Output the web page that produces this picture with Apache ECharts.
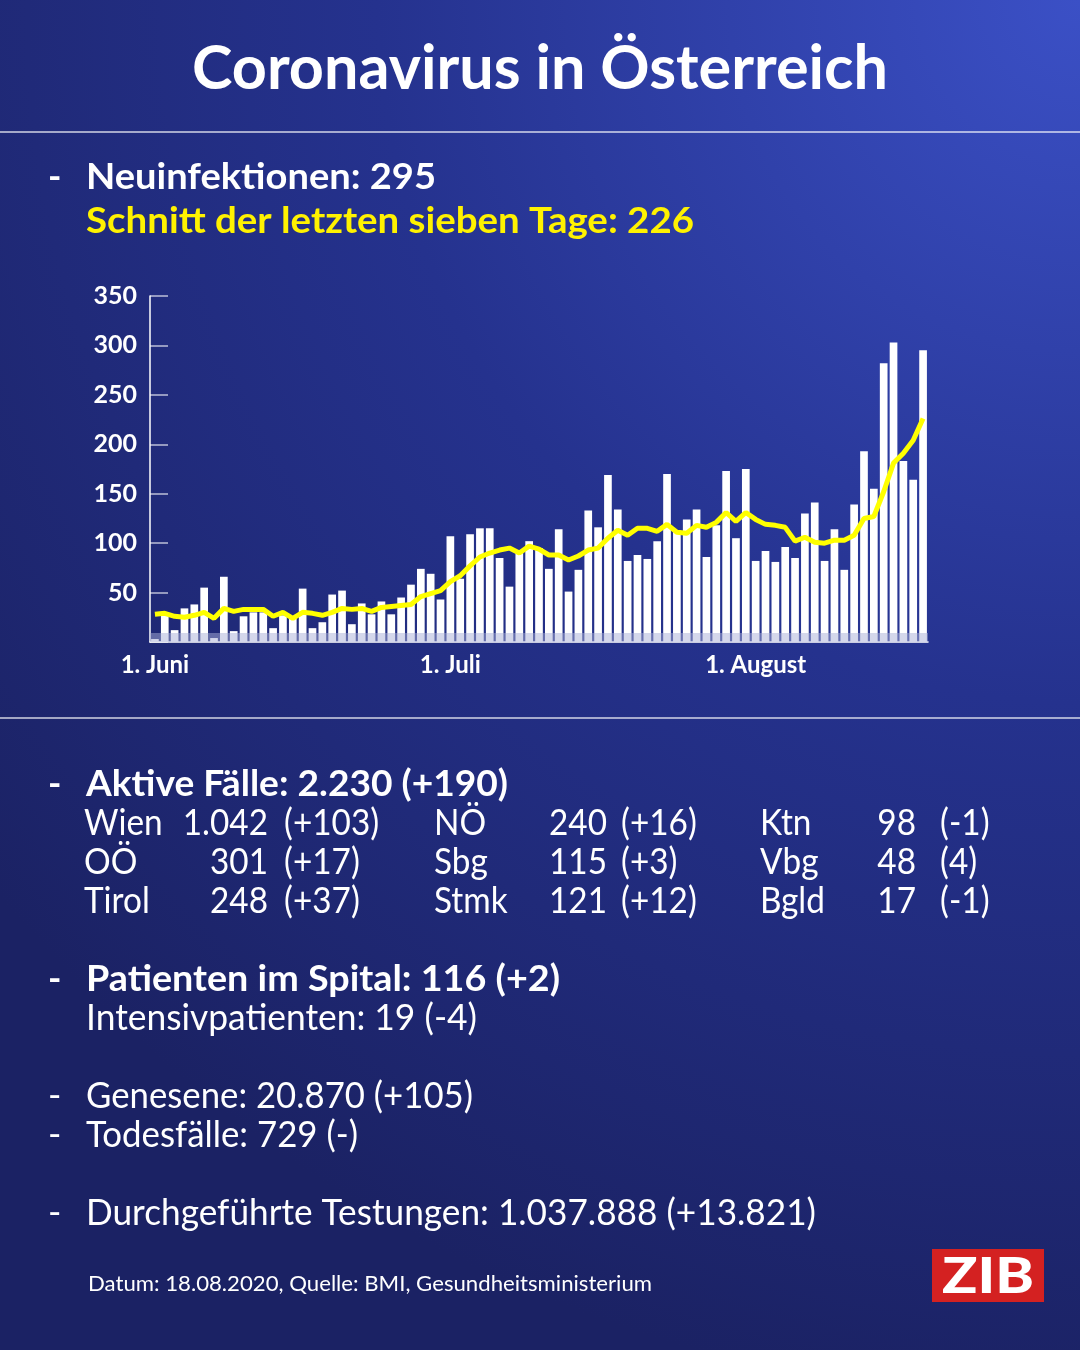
<!DOCTYPE html>
<html><head><meta charset="utf-8">
<script src="https://cdn.jsdelivr.net/npm/echarts@6/dist/echarts.min.js"></script>
<style>html,body{margin:0;padding:0;background:#1c2468}#c{width:1080px;height:1350px}</style>
</head><body><div id="c"></div>
<script>
// ---------- data ----------
const days = ['1.6.','2.6.','3.6.','4.6.','5.6.','6.6.','7.6.','8.6.','9.6.','10.6.','11.6.','12.6.','13.6.','14.6.','15.6.','16.6.','17.6.','18.6.','19.6.','20.6.','21.6.','22.6.','23.6.','24.6.','25.6.','26.6.','27.6.','28.6.','29.6.','30.6.',
'1.7.','2.7.','3.7.','4.7.','5.7.','6.7.','7.7.','8.7.','9.7.','10.7.','11.7.','12.7.','13.7.','14.7.','15.7.','16.7.','17.7.','18.7.','19.7.','20.7.','21.7.','22.7.','23.7.','24.7.','25.7.','26.7.','27.7.','28.7.','29.7.','30.7.','31.7.',
'1.8.','2.8.','3.8.','4.8.','5.8.','6.8.','7.8.','8.8.','9.8.','10.8.','11.8.','12.8.','13.8.','14.8.','15.8.','16.8.','17.8.','18.8.'];
const dailyCases = [3,27,12,34,38,55,4,66,11,26, 30,30,14,27,24,54,14,20,48,52, 18,39,28,41,28,45,58,74,69,43,
 107,64,109,115,115,85,56,90,102,95, 74,114,51,73,133,116,169,134,82,88, 84,102,170,113,124,134,86,118,173,105,
 175,82,92,81,96,85,130,141,82,114, 73,139,193,155,282,303,183,164,295];
const avg7 = [28,29,26,25,27,30,24,34,31,33, 33,33,26,30,24,30,29,27,30,34, 33,34,31,35,36,37,38,46,49,52,
 61,67,77,86,90,93,95,90,97,94, 88,88,83,87,93,95,105,113,108,115, 115,112,119,111,110,118,116,121,131,122,
 131,124,119,118,116,102,106,101,100,103, 103,108,125,127,152,181,191,204,226];
const xTickLabels = {'1.6.':'1. Juni','1.7.':'1. Juli','1.8.':'1. August'};
const yMax = 350, yStep = 50;

const titleText = 'Coronavirus in Österreich';
const newCasesText = 'Neuinfektionen: 295';
const avgText = 'Schnitt der letzten sieben Tage: 226';
const activeText = 'Aktive Fälle: 2.230 (+190)';
const regions = ['Wien','OÖ','Tirol','NÖ','Sbg','Stmk','Ktn','Vbg','Bgld'];
const regionActive = ['1.042','301','248','240','115','121','98','48','17'];
const regionChange = ['(+103)','(+17)','(+37)','(+16)','(+3)','(+12)','(-1)','(4)','(-1)'];
const hospitalText = 'Patienten im Spital: 116 (+2)';
const icuText = 'Intensivpatienten: 19 (-4)';
const recoveredText = 'Genesene: 20.870 (+105)';
const deathsText = 'Todesfälle: 729 (-)';
const testsText = 'Durchgeführte Testungen: 1.037.888 (+13.821)';
const footerText = 'Datum: 18.08.2020, Quelle: BMI, Gesundheitsministerium';
const logoText = 'ZIB';

// ---------- text helpers ----------
const FAM = 'Lato';
const ctx = document.createElement('canvas').getContext('2d');
function fontStr(size, weight){ return weight + ' ' + size + 'px ' + FAM; }
function mw(text, size, weight){ ctx.font = fontStr(size, weight); ctx.textBaseline = 'alphabetic'; return ctx.measureText(text).width; }
function midOff(size, weight){ ctx.font = fontStr(size, weight); ctx.textBaseline = 'middle'; const m = ctx.measureText('H'); ctx.textBaseline = 'alphabetic'; return m.actualBoundingBoxDescent; }
function T(text, x, base, size, weight, color, w, align){
  const sx = w ? w / mw(text, size, weight) : 1;
  return {type:'text', x:x, y: base - midOff(size, weight), scaleX: sx, silent:true, z:10,
    style:{text:text, fontFamily:FAM, fontSize:size, fontWeight:weight, fill:color, align:align||'left', verticalAlign:'middle'}};
}
const WHITE = '#ffffff', YEL = '#fff200';
const g = [];
g.push({type:'line', shape:{x1:0,y1:132,x2:1080,y2:132}, style:{stroke:'rgba(255,255,255,0.8)', lineWidth:1.5}, silent:true});
g.push({type:'line', shape:{x1:0,y1:718,x2:1080,y2:718}, style:{stroke:'rgba(255,255,255,0.8)', lineWidth:1.5}, silent:true});
g.push(T(titleText, 540, 89, 61, 'bold', WHITE, 696, 'center'));
[189, 796, 991].forEach(b => g.push(T('-', 48, b, 36, 'bold', WHITE)));
[1108, 1147, 1225].forEach(b => g.push(T('-', 48, b, 36, 'normal', WHITE)));
g.push(T(newCasesText, 86, 189, 36, 'bold', WHITE, 350));
g.push(T(avgText, 86, 233, 36, 'bold', YEL, 608));
g.push(T(activeText, 86, 796, 36, 'bold', WHITE, 422));
// region table
const colName = [84, 434, 760], colNumR = [268, 607, 916], colChg = [284, 621, 940];
const rowBase = [835, 874, 913];
const tScale = 259 / (mw('Wien',36,'normal') + mw('1.042',36,'normal') + mw('(+103)',36,'normal'));
regions.forEach((r, i) => {
  const c = Math.floor(i / 3), rw = i % 3;
  const a = T(r, colName[c], rowBase[rw], 36, 'normal', WHITE); a.scaleX = tScale; g.push(a);
  const b = T(regionActive[i], colNumR[c], rowBase[rw], 36, 'normal', WHITE, 0, 'right'); b.scaleX = tScale; g.push(b);
  const d = T(regionChange[i], colChg[c], rowBase[rw], 36, 'normal', WHITE); d.scaleX = tScale; g.push(d);
});
g.push(T(hospitalText, 86, 991, 36, 'bold', WHITE, 474));
g.push(T(icuText, 86, 1030, 36, 'normal', WHITE, 391));
g.push(T(recoveredText, 86, 1108, 36, 'normal', WHITE, 387));
g.push(T(deathsText, 86, 1147, 36, 'normal', WHITE, 272));
g.push(T(testsText, 86, 1225, 36, 'normal', WHITE, 730));
g.push(T(footerText, 88, 1291, 21, 'normal', WHITE, 564));
g.push({type:'rect', shape:{x:932,y:1249,width:112,height:53}, style:{fill:'#d42121'}, silent:true});
g.push(T(logoText, 988, 1293, 49, 900, WHITE, 92, 'center'));

// ---------- chart ----------
const chart = echarts.init(document.getElementById('c'), null, {renderer:'canvas', width:1080, height:1350});
chart.setOption({
  animation:false,
  backgroundColor:{type:'radial', x:1, y:0, r:1.3, colorStops:[
    {offset:0, color:'#3b50c6'}, {offset:0.5, color:'#25328e'}, {offset:1, color:'#1b2264'}]},
  grid:{left:150, right:152, top:296, bottom:708},
  xAxis:{type:'category', data:days, boundaryGap:true,
    axisLine:{show:true, lineStyle:{color:'#ffffff', width:1.5}},
    axisTick:{show:false},
    axisLabel:{interval:(i, v) => xTickLabels[v] !== undefined, formatter:(v) => xTickLabels[v] || '',
      color:'#ffffff', fontFamily:FAM, fontWeight:'bold', fontSize:24, margin:11}},
  yAxis:{type:'value', min:0, max:yMax, interval:yStep,
    axisLine:{show:true, lineStyle:{color:'#ffffff', width:1.5}},
    axisTick:{show:true, inside:true, length:18, lineStyle:{color:'rgba(255,255,255,0.7)', width:1.5}},
    splitLine:{show:false},
    axisLabel:{formatter:(v) => v === 0 ? '' : String(v), color:'#ffffff', fontFamily:FAM, fontWeight:'bold', fontSize:25, margin:13}},
  series:[
    {type:'bar', data:dailyCases, barCategoryGap:'22%', itemStyle:{color:'#ffffff'}, silent:true, z:2},
    {type:'line', data:avg7, symbol:'none', silent:true, z:4,
      lineStyle:{color:'#ffff00', width:5}},
    {type:'line', data:[], symbol:'none', silent:true, z:6,
      markArea:{silent:true, z:6, itemStyle:{color:'rgba(170,175,215,0.5)'}, data:[[{yAxis:0},{yAxis:9}]]}}
  ],
  graphic:g
});
</script></body></html>
